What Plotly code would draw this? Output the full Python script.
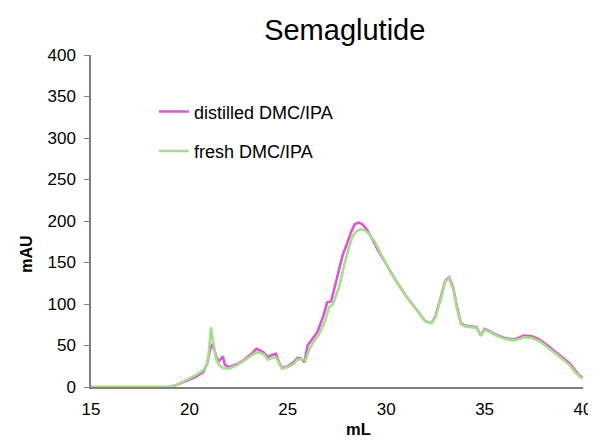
import plotly.graph_objects as go

# Elution volume (mL) and absorbance (mAU)
distilled_ml = [15.0, 17.0, 19.0, 19.3, 19.8, 20.3, 20.7, 20.9, 21.05, 21.15, 21.3, 21.45, 21.6, 21.7, 21.8, 22.0,
                22.4, 22.8, 23.2, 23.4, 23.6, 23.8, 24.0, 24.2, 24.4, 24.55, 24.7, 25.0, 25.3, 25.5, 25.7, 25.85,
                26.0, 26.2, 26.5, 26.8, 27.0, 27.2, 27.5, 27.8, 28.0, 28.2, 28.4, 28.6, 28.8, 29.0, 29.3,
                29.6, 30.0, 30.5, 31.0, 31.5, 32.0, 32.3, 32.5, 32.8, 33.0, 33.2, 33.4, 33.6, 33.8, 34.0,
                34.3, 34.6, 34.8, 35.0, 35.2, 35.5, 36.0, 36.5, 36.8, 37.0, 37.4, 37.8, 38.2, 38.6, 39.0,
                39.3, 39.6, 39.8, 40.0]
distilled_mau = [0, 0, 0, 2, 7, 12, 18, 28, 45, 52, 42, 30, 34, 37, 27, 24,
                 27, 33, 41, 46, 44, 41, 36, 39, 40, 30, 23, 25, 30, 35, 34, 30,
                 50, 56, 66, 85, 102, 103, 130, 160, 172, 186, 196, 198, 196, 190, 178,
                 164, 148, 128, 110, 94, 79, 77, 85, 110, 128, 132, 120, 96, 77, 74,
                 73, 72, 62, 70, 68, 64, 59, 57, 60, 62, 61, 57, 50, 42, 35,
                 29, 20, 14, 11]

fresh_ml = [15.0, 17.0, 19.0, 19.3, 19.8, 20.3, 20.7, 20.9, 21.0, 21.1, 21.2, 21.35, 21.5, 21.7, 22.0,
            22.4, 22.8, 23.2, 23.5, 23.8, 24.0, 24.2, 24.4, 24.55, 24.7, 25.0, 25.3, 25.5, 25.7, 25.9,
            26.1, 26.3, 26.6, 26.9, 27.1, 27.3, 27.6, 27.9, 28.1, 28.3, 28.5, 28.7, 28.9, 29.1, 29.4,
            29.7, 30.0, 30.5, 31.0, 31.5, 32.0, 32.3, 32.5, 32.8, 33.0, 33.2, 33.4, 33.6, 33.8, 34.0,
            34.3, 34.6, 34.8, 35.0, 35.2, 35.5, 36.0, 36.5, 36.8, 37.0, 37.4, 37.8, 38.2, 38.6, 39.0,
            39.3, 39.6, 39.8, 40.0]
fresh_mau = [0, 0, 0, 2, 8, 14, 20, 28, 45, 72, 55, 34, 27, 23, 22,
             26, 32, 39, 42, 39, 33, 35, 36, 28, 22, 24, 28, 33, 34, 32,
             46, 54, 64, 80, 96, 100, 120, 150, 168, 182, 188, 190, 189, 185, 176,
             162, 148, 128, 110, 94, 79, 77, 84, 108, 127, 131, 118, 94, 76, 73,
             72, 71, 63, 69, 67, 63, 58, 56, 58, 60, 59, 55, 48, 40, 33,
             27, 18, 13, 10]

series_names = ["distilled DMC/IPA", "fresh DMC/IPA"]
y_ticks = [0, 50, 100, 150, 200, 250, 300, 350, 400]
x_ticks = [15, 20, 25, 30, 35, 40]

fig = go.Figure()
fig.add_trace(go.Scatter(x=distilled_ml, y=distilled_mau, mode="lines", name=series_names[0],
                         line=dict(color="#d957d3", width=2.6), legendgroup="a"))
fig.add_trace(go.Scatter(x=fresh_ml, y=fresh_mau, mode="lines", name=series_names[1],
                         line=dict(color="#a6df8c", width=2.6), legendgroup="b"))

font_family = "Liberation Sans, Arial, sans-serif"
fig.update_layout(
    width=596, height=441,
    margin=dict(l=83, r=19, t=47, b=62),
    paper_bgcolor="white", plot_bgcolor="white",
    font=dict(family=font_family, color="#000000", size=17),
    title=dict(text="Semaglutide", x=0.565, xanchor="center", y=0.95, yanchor="middle",
               font=dict(size=29, family=font_family)),
    legend=dict(x=0.128, y=0.77, xanchor="left", yanchor="middle", tracegroupgap=13,
                traceorder="grouped", itemwidth=30, font=dict(size=18),
                bgcolor="rgba(0,0,0,0)"),
    showlegend=True,
    annotations=[
        dict(text="<b>mAU</b>", xref="paper", yref="paper", x=-0.131, y=0.4,
             xanchor="center", yanchor="middle", textangle=-90, showarrow=False,
             font=dict(size=16)),
        dict(text="<b>mL</b>", xref="paper", yref="paper", x=0.544, y=-0.128,
             xanchor="center", yanchor="middle", showarrow=False,
             font=dict(size=16.5)),
    ],
)
fig.update_xaxes(range=[15, 40], tickvals=x_ticks, ticks="", showgrid=False, zeroline=False,
                 showline=True, linecolor="#808080", linewidth=1.5, ticklabelstandoff=6,
                 tickfont=dict(size=17))
fig.update_yaxes(range=[0, 400], tickvals=y_ticks, ticks="outside", ticklen=5, tickcolor="#808080",
                 showgrid=False, zeroline=False, showline=True, linecolor="#808080", linewidth=1.5,
                 ticklabelstandoff=5, tickfont=dict(size=17))

fig.write_html("out.html")
